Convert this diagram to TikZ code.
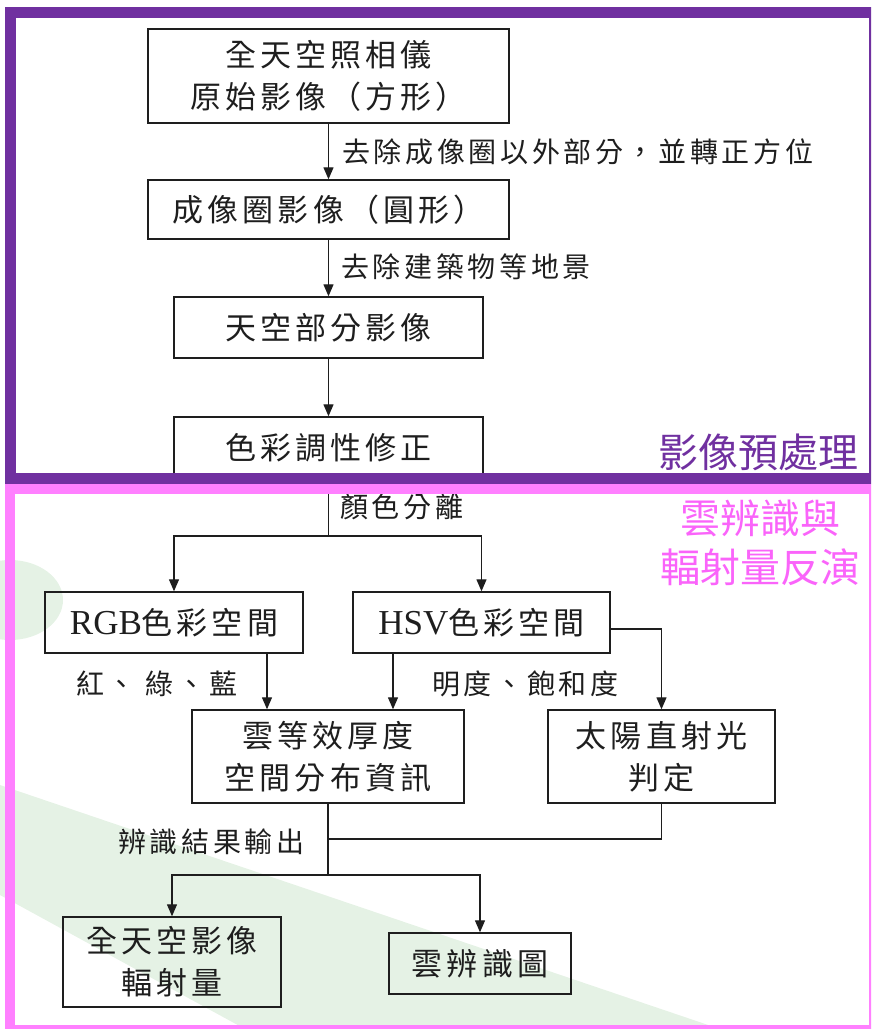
\documentclass[tikz,border=0pt]{standalone}
\usepackage{fontspec}
\setmainfont{Liberation Serif}
\newfontfamily\cjkbox[LetterSpace=13]{Noto Sans CJK TC}
\newfontfamily\cjklab[LetterSpace=13]{Noto Sans CJK TC}
\newfontfamily\cjktitle{Noto Sans CJK TC}
\newfontfamily\latbox{Liberation Serif}
\usetikzlibrary{arrows.meta,calc}
\newcommand{\bxf}{\cjkbox\fontsize{31}{42}\selectfont}
\newcommand{\lbf}{\cjklab\fontsize{28}{30}\selectfont}
\newcommand{\ttlf}{\cjktitle\fontsize{40}{49}\selectfont}
\newcommand{\rgbf}{\latbox\fontsize{35}{42}\selectfont}
\definecolor{purpc}{RGB}{112,48,160}
\definecolor{pinkc}{RGB}{255,128,255}
\definecolor{pinkt}{RGB}{250,100,250}
\definecolor{greenbg}{RGB}{229,242,229}
\definecolor{ink}{RGB}{30,30,30}
\begin{document}
\begin{tikzpicture}[x=1pt,y=-1pt,
  box/.style={draw=ink, line width=1.4pt, rectangle, inner sep=0pt, align=center, font=\bxf, text=ink},
  lab/.style={anchor=west, inner sep=0pt, font=\lbf, text=ink},
  arr/.style={draw=ink, line width=1.3pt, -{Triangle[length=12pt,width=10pt]}},
  ln/.style={draw=ink, line width=1.3pt},
  ttl/.style={font=\ttlf, inner sep=0pt, align=center}]
\useasboundingbox (0,0) rectangle (871,1029);
\begin{scope}
\clip (0,0) rectangle (871,1029);
% background decoration
\fill[greenbg] (0,785) -- (720,1029) -- (245,1029) -- (0,895) -- cycle;
\fill[greenbg] (10,600) ellipse [x radius=53pt, y radius=40pt];

% boxes
\node[box, minimum width=361pt, minimum height=94pt] (b1) at (328.5,76) {全天空照相儀\\原始影像（方形）};
\node[box, minimum width=361pt, minimum height=59pt] (b2) at (328.5,209.5) {成像圈影像（圓形）};
\node[box, minimum width=309pt, minimum height=61pt] (b3) at (328.5,327.5) {天空部分影像};
\node[box, minimum width=309pt, minimum height=61pt] (b4) at (328.5,447.5) {色彩調性修正};
\node[box, minimum width=258pt, minimum height=61pt] (rgb) at (174,622.5) {{\rgbf RGB}色彩空間};
\node[box, minimum width=257pt, minimum height=61pt] (hsv) at (481.5,622.5) {{\rgbf HSV}色彩空間};
\node[box, minimum width=272pt, minimum height=93pt] (cloud) at (328,756.5) {雲等效厚度\\空間分布資訊};
\node[box, minimum width=227pt, minimum height=93pt] (solar) at (661.5,756.5) {太陽直射光\\判定};
\node[box, minimum width=218pt, minimum height=90pt] (full) at (172,962) {全天空影像\\輻射量};
\node[box, minimum width=182pt, minimum height=61pt] (map) at (480,963.5) {雲辨識圖};

% connectors
\draw[arr] (b1.south) -- (b2.north);
\draw[arr] (b2.south) -- (b3.north);
\draw[arr] (b3.south) -- (b4.north);
\coordinate (s1) at (328.5,536);
\draw[ln] (b4.south) -- (s1);
\draw[arr] (s1) -| (rgb.north);
\draw[arr] (s1) -| (hsv.north);
\draw[arr] ([xshift=93pt]rgb.south) -- ([xshift=93pt]rgb.south |- cloud.north);
\draw[arr] ([xshift=-88.5pt]hsv.south) -- ([xshift=-88.5pt]hsv.south |- cloud.north);
\draw[arr] ([yshift=-6.5pt]hsv.east) -| (solar.north);
\coordinate (m1) at (328,839);
\coordinate (s2) at (328,875);
\draw[ln] (cloud.south) -- (s2);
\draw[ln] (solar.south) |- (m1);
\draw[arr] (s2) -| (full.north);
\draw[arr] (s2) -| (map.north);

% connector labels
\node[lab] (l1) at (342,152) {去除成像圈以外部分，並轉正方位};
\node[lab] (l2) at (341,267) {去除建築物等地景};
\node[lab] (l3) at (340,507) {顏色分離};
\node[lab] (l4) at (76,684) {紅、 綠、藍};
\node[lab] (l5) at (432,684) {明度、飽和度};
\node[lab] (l6) at (118,842) {辨識結果輸出};

% frames
\draw[purpc, line width=11pt] (10.5,12.5) rectangle (874,478);
\draw[pinkc, line width=10pt] (10,489) rectangle (874,1030);

% titles
\node[ttl, text=purpc] (t1) at (758,452) {影像預處理};
\node[ttl, text=pinkt] (t2) at (760,543) {雲辨識與\\輻射量反演};
\end{scope}
\end{tikzpicture}
\end{document}
